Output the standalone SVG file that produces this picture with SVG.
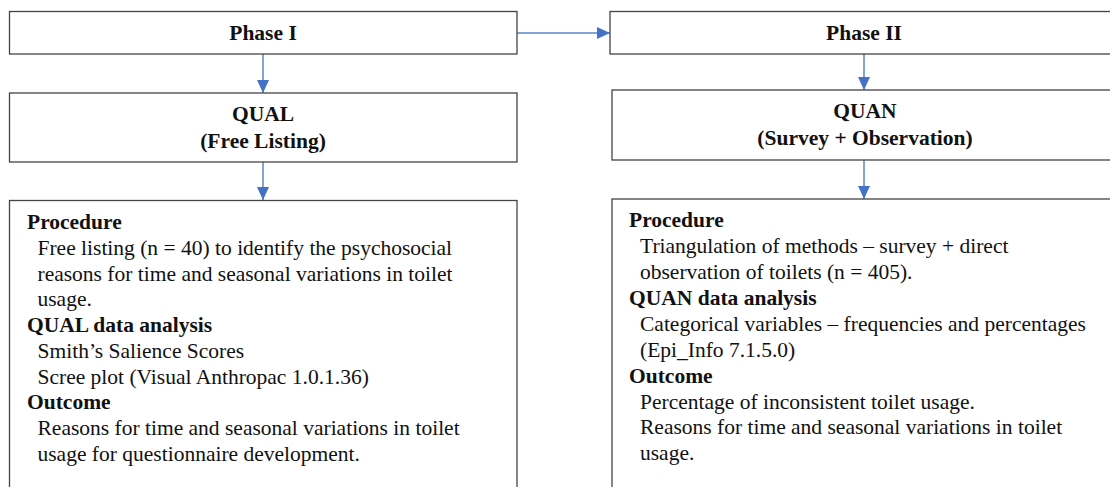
<svg xmlns="http://www.w3.org/2000/svg" width="1110" height="487" viewBox="0 0 1110 487">
<style>
.box{fill:#fff;stroke:#444;stroke-width:1.3}
.t{font-family:'Liberation Serif','Times New Roman',Times,'DejaVu Serif',serif;font-size:21.5px;fill:#111}
.b{font-weight:bold}
.c{text-anchor:middle}
.conn{stroke:#5A86C8;stroke-width:1.5;fill:none}
</style>
<defs>
<marker id="ah" viewBox="0 0 13 12" refX="13" refY="6" markerWidth="13" markerHeight="12" orient="auto" markerUnits="userSpaceOnUse">
<path d="M0,0 L13,6 L0,12 z" fill="#4472C4"/>
</marker>
</defs>
<rect width="1110" height="487" fill="#fff"/>
<g id="connectors">
<line class="conn" x1="517" y1="33" x2="610" y2="33" marker-end="url(#ah)"/>
<line class="conn" x1="263" y1="54" x2="263" y2="93" marker-end="url(#ah)"/>
<line class="conn" x1="263" y1="162" x2="263" y2="200" marker-end="url(#ah)"/>
<line class="conn" x1="864" y1="54" x2="864" y2="90" marker-end="url(#ah)"/>
<line class="conn" x1="864" y1="160" x2="864" y2="199" marker-end="url(#ah)"/>
</g>
<g id="phase1">
<rect class="box" x="9.5" y="11.5" width="507.5" height="42.5"/>
<text class="t b c" x="263" y="39.5">Phase I</text>
</g>
<g id="phase2">
<rect class="box" x="610" y="11.5" width="510" height="42.5"/>
<text class="t b c" x="864" y="39.5">Phase II</text>
</g>
<g id="qual">
<rect class="box" x="9.5" y="93" width="507.5" height="69"/>
<text class="t b c" x="263" y="121">QUAL</text>
<text class="t b c" x="263" y="147.5">(Free Listing)</text>
</g>
<g id="quan">
<rect class="box" x="612" y="90" width="508" height="70"/>
<text class="t b c" x="865" y="118">QUAN</text>
<text class="t b c" x="865" y="144.5">(Survey + Observation)</text>
</g>
<g id="qual-details">
<rect class="box" x="9.5" y="200.5" width="507.5" height="300"/>
<text class="t b" x="27" y="229">Procedure</text>
<text class="t" x="37.5" y="255">Free listing (n = 40) to identify the psychosocial</text>
<text class="t" x="37.5" y="281">reasons for time and seasonal variations in toilet</text>
<text class="t" x="37.5" y="306">usage.</text>
<text class="t b" x="27" y="332">QUAL data analysis</text>
<text class="t" x="37.5" y="358">Smith’s Salience Scores</text>
<text class="t" x="37.5" y="384">Scree plot (Visual Anthropac 1.0.1.36)</text>
<text class="t b" x="27" y="409">Outcome</text>
<text class="t" x="37.5" y="435">Reasons for time and seasonal variations in toilet</text>
<text class="t" x="37.5" y="461">usage for questionnaire development.</text>
</g>
<g id="quan-details">
<rect class="box" x="612" y="199" width="508" height="300"/>
<text class="t b" x="629" y="227">Procedure</text>
<text class="t" x="640" y="253">Triangulation of methods – survey + direct</text>
<text class="t" x="640" y="279">observation of toilets (n = 405).</text>
<text class="t b" x="629" y="305">QUAN data analysis</text>
<text class="t" x="640" y="331">Categorical variables – frequencies and percentages</text>
<text class="t" x="640" y="357">(Epi_Info 7.1.5.0)</text>
<text class="t b" x="629" y="383">Outcome</text>
<text class="t" x="640" y="409">Percentage of inconsistent toilet usage.</text>
<text class="t" x="640" y="434">Reasons for time and seasonal variations in toilet</text>
<text class="t" x="640" y="460">usage.</text>
</g>
</svg>
